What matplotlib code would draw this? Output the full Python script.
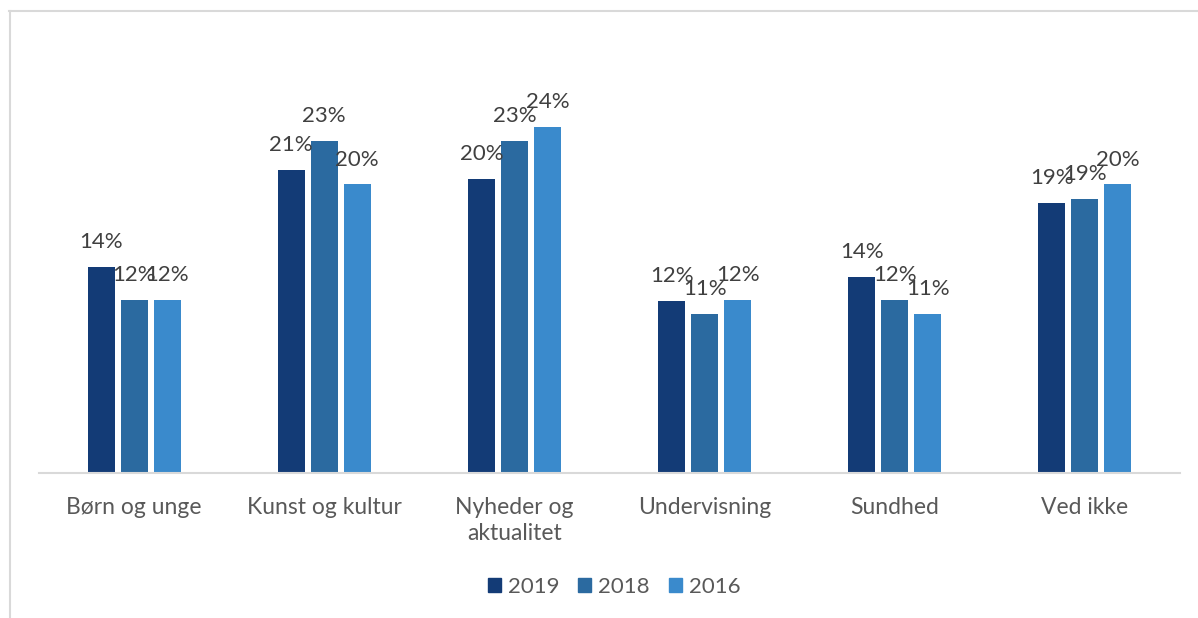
import matplotlib
matplotlib.use("Agg")
import matplotlib.pyplot as plt
from matplotlib.lines import Line2D
from matplotlib.patches import Patch
import numpy as np

plt.rcParams['font.family'] = ['Lato', 'DejaVu Sans']

categories = ["Børn og unge", "Kunst og kultur", "Nyheder og\naktualitet",
              "Undervisning", "Sundhed", "Ved ikke"]
series_names = ["2019", "2018", "2016"]
v2019 = [0.143, 0.210, 0.204, 0.119, 0.136, 0.187]
v2018 = [0.120, 0.230, 0.230, 0.110, 0.120, 0.190]
v2016 = [0.120, 0.200, 0.240, 0.120, 0.110, 0.200]
colors = ["#133B76", "#2B6AA0", "#3A8ACC"]

W, H = 1198, 618
fig = plt.figure(figsize=(W / 100, H / 100), dpi=100)
ax = fig.add_axes([39 / W, (H - 473) / H, (1180 - 39) / W, 433 / H])

x = np.arange(len(categories))
step = 33 / 190
width = 27 / 190
for i, (vals, name, c) in enumerate(zip([v2019, v2018, v2016], series_names, colors)):
    pos = x + (i - 1) * step
    ax.bar(pos, vals, width=width, color=c, label=name, zorder=2)
    for px, v in zip(pos, vals):
        ax.annotate(f"{round(v * 100):.0f}%", (px, v), xytext=(0, 13.5),
                    textcoords="offset points", ha="center", va="baseline",
                    fontsize=16, color="#404040", zorder=3)

ax.set_xlim(-0.5, len(categories) - 0.5)
ax.set_ylim(0, 0.30)
ax.set_xticks(x)
ax.set_xticklabels(categories, fontsize=16.5, color="#595959", linespacing=1.3)
ax.tick_params(axis="x", length=0, pad=17)
ax.set_yticks([])
for s in ["top", "right", "left"]:
    ax.spines[s].set_visible(False)
ax.spines["bottom"].set_color("#D9D9D9")
ax.spines["bottom"].set_linewidth(1.5)

handles = [Patch(facecolor=c, edgecolor=c) for c in colors]
fig.legend(handles, series_names, loc="center", bbox_to_anchor=(614 / W, 1 - 587 / H),
           ncol=3, frameon=False, fontsize=16, handlelength=0.6, handleheight=0.6,
           handletextpad=0.3, columnspacing=0.85, labelcolor="#595959")

# outer chart border (top and left visible)
fig.add_artist(Line2D([9 / W, 1], [1 - 11 / H, 1 - 11 / H], color="#D9D9D9", lw=1.5,
                      transform=fig.transFigure))
fig.add_artist(Line2D([9.5 / W, 9.5 / W], [0, 1 - 11 / H], color="#D9D9D9", lw=1.5,
                      transform=fig.transFigure))

fig.savefig("out.png", dpi=100, facecolor="white")
